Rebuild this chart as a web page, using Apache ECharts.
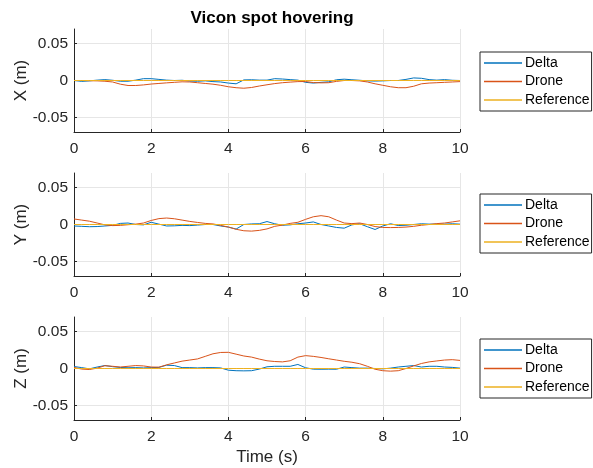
<!DOCTYPE html>
<html>
<head>
<meta charset="utf-8">
<script src="https://cdn.jsdelivr.net/npm/echarts@6/dist/echarts.min.js"></script>
<style>html,body{margin:0;padding:0;background:#fff}#c{width:593px;height:468px}</style>
</head>
<body>
<div id="c"></div>
<script>
const time = [0,0.2,0.4,0.6,0.8,1.0,1.2,1.4,1.6,1.8,2.0,2.2,2.4,2.6,2.8,3.0,3.2,3.4,3.6,3.8,4.0,4.2,4.4,4.6,4.8,5.0,5.2,5.4,5.6,5.8,6.0,6.2,6.4,6.6,6.8,7.0,7.2,7.4,7.6,7.8,8.0,8.2,8.4,8.6,8.8,9.0,9.2,9.4,9.6,9.8,10];

const xDelta = [0,-0.0012,-0.0005,0.0005,0.0012,0.0003,-0.001,-0.001,0.0005,0.0025,0.0025,0.0015,0.0005,0,0.0003,-0.0008,-0.001,-0.0005,-0.0015,-0.002,-0.0035,-0.0045,0.0008,0.001,0.0005,0.0005,0.0025,0.002,0.0012,0.0005,-0.0025,-0.0035,-0.0025,-0.0018,0.001,0.0018,0.001,0.0003,-0.0005,-0.0008,-0.0005,0,0,0.0015,0.0035,0.003,0.0012,0.0005,0.0012,0.0003,0];
const xDrone = [0,0,-0.0003,-0.0005,-0.001,-0.002,-0.005,-0.0068,-0.0068,-0.006,-0.0048,-0.004,-0.0032,-0.0025,-0.0018,-0.002,-0.003,-0.004,-0.005,-0.0065,-0.0085,-0.0098,-0.0105,-0.0095,-0.0075,-0.0058,-0.0042,-0.003,-0.0022,-0.0015,-0.0014,-0.0028,-0.0032,-0.003,-0.0012,0,0,-0.0005,-0.002,-0.0045,-0.0065,-0.0085,-0.0098,-0.0098,-0.0078,-0.0045,-0.0035,-0.003,-0.0025,-0.002,-0.0015];
const xRef = [0,0,0,0,0,0,0,0,0,0,0,0,0,0,0,0,0,0,0,0,0,0,0,0,0,0,0,0,0,0,0,0,0,0,0,0,0,0,0,0,0,0,0,0,0,0,0,0,0,0,0];

const yDelta = [-0.002,-0.0025,-0.003,-0.0028,-0.002,-0.0012,0.0015,0.002,0,-0.0005,0.003,0.0005,-0.002,-0.0018,-0.0012,-0.0015,-0.0008,0,0,-0.002,-0.0035,-0.0062,0,0.0008,0.001,0.004,0.001,-0.001,-0.0005,0.001,0.002,0.0035,0,-0.002,-0.004,-0.005,-0.0005,0.001,-0.003,-0.0068,-0.002,0.001,-0.0014,-0.001,0,0.001,0.0005,0.0005,0.0005,0.001,0.0005];
const yDrone = [0.0075,0.006,0.0045,0.002,-0.0005,-0.0015,-0.0012,-0.0003,0.0005,0.002,0.0055,0.008,0.0088,0.0078,0.006,0.0042,0.0028,0.0015,0.0008,-0.0012,-0.0035,-0.0065,-0.0085,-0.009,-0.008,-0.006,-0.0025,-0.0008,0.0015,0.003,0.007,0.0105,0.012,0.0105,0.006,0.002,0.0012,0.002,0,-0.0028,-0.004,-0.0042,-0.004,-0.0035,-0.0025,-0.001,0,0.0012,0.002,0.0035,0.005];
const yRef = [0,0,0,0,0,0,0,0,0,0,0,0,0,0,0,0,0,0,0,0,0,0,0,0,0,0,0,0,0,0,0,0,0,0,0,0,0,0,0,0,0,0,0,0,0,0,0,0,0,0,0];

const zDelta = [0.0027,0.0012,-0.0005,0.002,0.004,0.0025,0.0014,0.001,0.0012,0.0008,0.0012,0.0015,0.0045,0.004,0.0012,0.0012,0.0008,0.0012,0.0012,0.0008,-0.0023,-0.003,-0.0032,-0.003,-0.0008,0.0023,0.003,0.003,0.003,0.0055,0.001,-0.0009,-0.001,-0.0009,-0.001,0.002,0.0012,0.0005,0.0005,0,-0.0005,0.0005,0.002,0.003,0.004,0.002,0.003,0.003,0.002,0.0015,0.0005];
const zDrone = [0.0014,-0.0008,-0.0014,0.0005,0.0038,0.003,0.002,0.003,0.004,0.0035,0.002,0.0018,0.005,0.0075,0.01,0.0115,0.013,0.0165,0.02,0.0218,0.022,0.0195,0.017,0.0155,0.0128,0.0105,0.0095,0.009,0.0105,0.0155,0.0175,0.0165,0.015,0.0132,0.0115,0.0098,0.0085,0.0065,0.003,-0.001,-0.003,-0.0036,-0.003,0,0.0035,0.0068,0.009,0.0103,0.0115,0.012,0.011];
const zRef = [0,0,0,0,0,0,0,0,0,0,0,0,0,0,0,0,0,0,0,0,0,0,0,0,0,0,0,0,0,0,0,0,0,0,0,0,0,0,0,0,0,0,0,0,0,0,0,0,0,0,0];

const xTicks = [0,2,4,6,8,10];
const yTicks = [-0.05,0,0.05];
const yLabels = ['X (m)','Y (m)','Z (m)'];
const seriesNames = ['Delta','Drone','Reference'];
const colors = ['#0072BD','#D95319','#EDB120'];
const titleText = 'Vicon spot hovering';
const xName = 'Time (s)';

const panels = [[xDelta,xDrone,xRef],[yDelta,yDrone,yRef],[zDelta,zDrone,zRef]];
const FONT = "'Liberation Sans', Arial, Helvetica, sans-serif";
const tops = [29, 173, 317];
const gridH = 103;
const legendTops = [52, 194, 339];

const grids = [], xAxes = [], yAxes = [], series = [], legends = [];
panels.forEach((p, i) => {
  grids.push({left: 74, right: 133, top: tops[i], height: gridH, containLabel: false, outerBoundsMode: 'none'});
  xAxes.push({
    type: 'value', gridIndex: i, min: 0, max: 10, interval: 2,
    name: i === 2 ? xName : '', nameLocation: 'middle', nameGap: 29, nameMoveOverlap: false,
    nameTextStyle: {fontFamily: FONT, fontSize: 17, color: '#262626'},
    axisLine: {show: true, onZero: false, lineStyle: {color: '#262626', width: 1}},
    axisTick: {show: true, inside: true, length: 3, lineStyle: {color: '#262626'}},
    axisLabel: {fontFamily: FONT, fontSize: 15.5, color: '#262626', margin: 9},
    splitLine: {show: true, lineStyle: {color: '#e6e6e6', width: 1}}
  });
  yAxes.push({
    type: 'value', gridIndex: i, min: -0.07, max: 0.07,
    name: yLabels[i], nameLocation: 'middle', nameGap: 44, nameRotate: 90, nameMoveOverlap: false,
    nameTextStyle: {fontFamily: FONT, fontSize: 17, color: '#262626'},
    axisLine: {show: true, lineStyle: {color: '#262626', width: 1}},
    axisTick: {show: true, inside: true, length: 3, customValues: yTicks, lineStyle: {color: '#262626'}},
    axisLabel: {fontFamily: FONT, fontSize: 15.5, color: '#262626', margin: 6, customValues: yTicks,
      formatter: v => (Math.abs(v) < 1e-9 ? '0' : String(+v.toFixed(2)))},
    splitLine: {show: true, lineStyle: {color: '#e6e6e6', width: 1}}
  });
  p.forEach((vals, k) => {
    series.push({
      type: 'line', name: seriesNames[k], xAxisIndex: i, yAxisIndex: i,
      data: time.map((t, j) => [t, vals[j]]),
      symbol: 'none', showSymbol: false, silent: true, animation: false,
      lineStyle: {color: colors[k], width: 1}, itemStyle: {color: colors[k]}
    });
  });
  legends.push({
    left: 480, top: legendTops[i], orient: 'vertical',
    data: seriesNames.map(n => ({name: n, icon: 'path://M0,0L38,0L38,1.5L0,1.5Z'})),
    itemWidth: 38, itemHeight: 2, itemGap: 2.5,
    padding: [3, 2, 3, 4],
    borderColor: '#262626', borderWidth: 1, backgroundColor: '#fff',
    textStyle: {fontFamily: FONT, fontSize: 14, color: '#000', lineHeight: 16, padding: [0,0,0,-2]},
    selectedMode: false
  });
});

const chart = echarts.init(document.getElementById('c'), null, {renderer: 'canvas'});
chart.setOption({
  animation: false,
  backgroundColor: '#fff',
  title: {text: titleText, left: 267, textAlign: 'center', top: 5,
    textStyle: {fontFamily: FONT, fontSize: 17, fontWeight: 'bold', color: '#000'}},
  legend: legends,
  grid: grids, xAxis: xAxes, yAxis: yAxes, series: series
});
</script>
</body>
</html>
